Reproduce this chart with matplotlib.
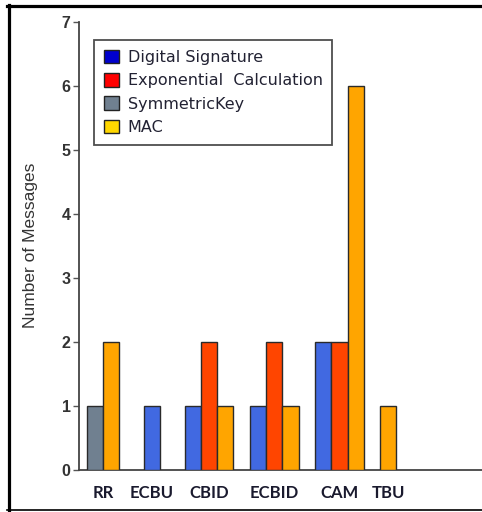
import matplotlib
matplotlib.use("Agg")
import matplotlib.pyplot as plt
from matplotlib.patches import Patch
from matplotlib.lines import Line2D

# ---- data ----
categories = ["RR", "ECBU", "CBID", "ECBID", "CAM", "TBU"]
series_names = ["Digital Signature", "Exponential  Calculation", "SymmetricKey", "MAC"]
digital_signature = [0, 1, 1, 1, 2, 0]
exponential_calc = [0, 0, 2, 2, 2, 0]
symmetric_key = [1, 0, 0, 0, 0, 0]
mac = [2, 0, 1, 1, 6, 1]
y_ticks = [0, 1, 2, 3, 4, 5, 6, 7]

# ---- styles / layout ----
bar_colors = ["#4169E1", "#FF4500", "#708090", "#FFA500"]
legend_colors = ["#0000CD", "#FF0000", "#708090", "#FFD700"]
group_centers = [1.0, 4.0, 7.5, 11.5, 15.5, 18.5]  # in bar-width units

W, H = 482, 512
fig = plt.figure(figsize=(W / 100, H / 100), dpi=100)
fig.patch.set_facecolor("white")

ax_left, ax_right = 79 / W, 482 / W
ax_bottom, ax_top = 1 - 469.5 / H, 1 - 22 / H
ax = fig.add_axes([ax_left, ax_bottom, ax_right - ax_left, ax_top - ax_bottom])

all_series = [digital_signature, exponential_calc, symmetric_key, mac]
for gi, cx in enumerate(group_centers):
    present = [(si, s[gi]) for si, s in enumerate(all_series) if s[gi] > 0]
    n = len(present)
    start = cx - n / 2.0
    for k, (si, v) in enumerate(present):
        ax.bar(start + k, v, width=1.0, align="edge", color=bar_colors[si],
               edgecolor="#2a2a2a", linewidth=1.0, zorder=3)

ax.set_xlim((79 - 86.7) / 16.3, (482 - 86.7) / 16.3)
ax.set_ylim(0, 7)
ax.set_yticks(y_ticks)
ax.set_yticklabels([str(t) for t in y_ticks], fontsize=11.5, fontweight="bold",
                   color="#333333", family="Liberation Sans")
ax.set_xticks(group_centers)
ax.set_xticklabels(categories, fontsize=12, fontweight="bold", color="#1a1a2e",
                   family="Lato")
ax.tick_params(axis="x", length=0, pad=11)
ax.tick_params(axis="y", length=4, width=1, color="#555555", pad=2, direction="out")

for side in ["top", "right"]:
    ax.spines[side].set_visible(False)
for side in ["left", "bottom"]:
    ax.spines[side].set_color("#444444")
    ax.spines[side].set_linewidth(1.3)

ax.set_ylabel("Number of Messages", fontsize=12.5, color="#333333",
              family="Liberation Sans", labelpad=17)

handles = [Patch(facecolor=c, edgecolor="#222222", linewidth=1.0) for c in legend_colors]
leg = ax.legend(handles, series_names, loc="upper left",
                bbox_to_anchor=(94 / W, 1 - 40 / H), bbox_transform=fig.transFigure,
                fontsize=11.5, frameon=True, fancybox=False, borderaxespad=0,
                handlelength=0.95, handleheight=0.95, handletextpad=0.55,
                labelspacing=0.5, borderpad=0.6)
leg.get_frame().set_edgecolor("#222222")
leg.get_frame().set_linewidth(1.3)
for t in leg.get_texts():
    t.set_color("#222233")
    t.set_family("DejaVu Sans")

# outer border
fig.add_artist(Line2D([8.5 / W, 8.5 / W], [1 - 5 / H, 1 - 509.5 / H],
                      transform=fig.transFigure, color="black", linewidth=2.3))
fig.add_artist(Line2D([7 / W, 1.0], [1 - 5.5 / H, 1 - 5.5 / H],
                      transform=fig.transFigure, color="black", linewidth=2.3))
fig.add_artist(Line2D([7 / W, 1.0], [1 - 509.5 / H, 1 - 509.5 / H],
                      transform=fig.transFigure, color="black", linewidth=1.2))

fig.savefig("out.png", dpi=100, facecolor="white")
